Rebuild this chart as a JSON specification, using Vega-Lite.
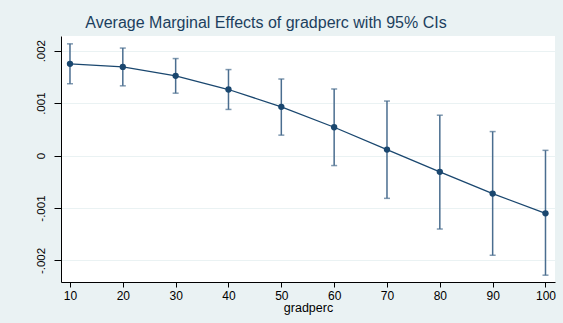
{
  "$schema": "https://vega.github.io/schema/vega-lite/v6.json",
  "autosize": "none",
  "width": 494,
  "height": 246,
  "padding": {"left": 61, "top": 36, "right": 8, "bottom": 41},
  "background": "#eaf2f3",
  "config": {
    "view": {"fill": "white", "stroke": null},
    "font": "Liberation Sans"
  },
  "title": {
    "text": "Average Marginal Effects of gradperc with 95% CIs",
    "font": "Liberation Sans",
    "fontSize": 16,
    "fontWeight": "normal",
    "color": "#1c3f5e",
    "anchor": "middle",
    "baseline": "alphabetic",
    "offset": 4,
    "dx": -42,
    "dy": 12
  },
  "data": {
    "values": [
      {"gradperc": 10, "me": 0.00175, "lo": 0.00137, "hi": 0.00213},
      {"gradperc": 20, "me": 0.00169, "lo": 0.00133, "hi": 0.00205},
      {"gradperc": 30, "me": 0.00152, "lo": 0.00119, "hi": 0.00185},
      {"gradperc": 40, "me": 0.00126, "lo": 0.00088, "hi": 0.00164},
      {"gradperc": 50, "me": 0.00093, "lo": 0.00039, "hi": 0.00146},
      {"gradperc": 60, "me": 0.00054, "lo": -0.00019, "hi": 0.00127},
      {"gradperc": 70, "me": 0.000115, "lo": -0.000815, "hi": 0.00104},
      {"gradperc": 80, "me": -0.00031, "lo": -0.0014, "hi": 0.00077},
      {"gradperc": 90, "me": -0.000725, "lo": -0.0019, "hi": 0.000458},
      {"gradperc": 100, "me": -0.0011, "lo": -0.00228, "hi": 0.0001}
    ]
  },
  "encoding": {
    "x": {
      "field": "gradperc",
      "type": "quantitative",
      "scale": {"domain": [8.3, 101.8], "nice": false, "zero": false},
      "axis": {
        "values": [10, 20, 30, 40, 50, 60, 70, 80, 90, 100],
        "title": "gradperc",
        "grid": false,
        "domainColor": "#000000",
        "domainWidth": 1,
        "tickColor": "#000000",
        "tickSize": 5,
        "labelFont": "Liberation Sans",
        "labelFontSize": 12,
        "labelColor": "#000000",
        "labelPadding": 3,
        "titleFont": "Liberation Sans",
        "titleFontSize": 12.5,
        "titleFontWeight": "normal",
        "titleColor": "#000000",
        "titlePadding": 0
      }
    }
  },
  "layer": [
    {
      "mark": {"type": "rule", "color": "#4a6d8f", "strokeWidth": 1.5},
      "encoding": {
        "y": {
          "field": "lo",
          "type": "quantitative",
          "scale": {"domain": [-0.00241, 0.00228], "nice": false, "zero": false},
          "axis": {
            "values": [-0.002, -0.001, 0, 0.001, 0.002],
            "labelExpr": "datum.value == 0 ? '0' : (datum.value < 0 ? '-' : '') + '.00' + format(abs(datum.value) * 1000, '.0f')",
            "title": null,
            "grid": true,
            "gridColor": "#eaf2f3",
            "gridWidth": 1,
            "domainColor": "#000000",
            "domainWidth": 1,
            "tickColor": "#000000",
            "tickSize": 7,
            "labelAngle": -90,
            "labelFont": "Liberation Sans",
            "labelFontSize": 11.5,
            "labelColor": "#000000",
            "labelPadding": 8
          }
        },
        "y2": {"field": "hi"}
      }
    },
    {
      "mark": {"type": "tick", "orient": "horizontal", "color": "#4a6d8f", "size": 6, "thickness": 1.5},
      "encoding": {"y": {"field": "lo", "type": "quantitative"}}
    },
    {
      "mark": {"type": "tick", "orient": "horizontal", "color": "#4a6d8f", "size": 6, "thickness": 1.5},
      "encoding": {"y": {"field": "hi", "type": "quantitative"}}
    },
    {
      "mark": {"type": "line", "color": "#1a476f", "strokeWidth": 1.3},
      "encoding": {"y": {"field": "me", "type": "quantitative"}}
    },
    {
      "mark": {"type": "point", "filled": true, "color": "#1a476f", "size": 40, "opacity": 1},
      "encoding": {"y": {"field": "me", "type": "quantitative"}}
    }
  ]
}
